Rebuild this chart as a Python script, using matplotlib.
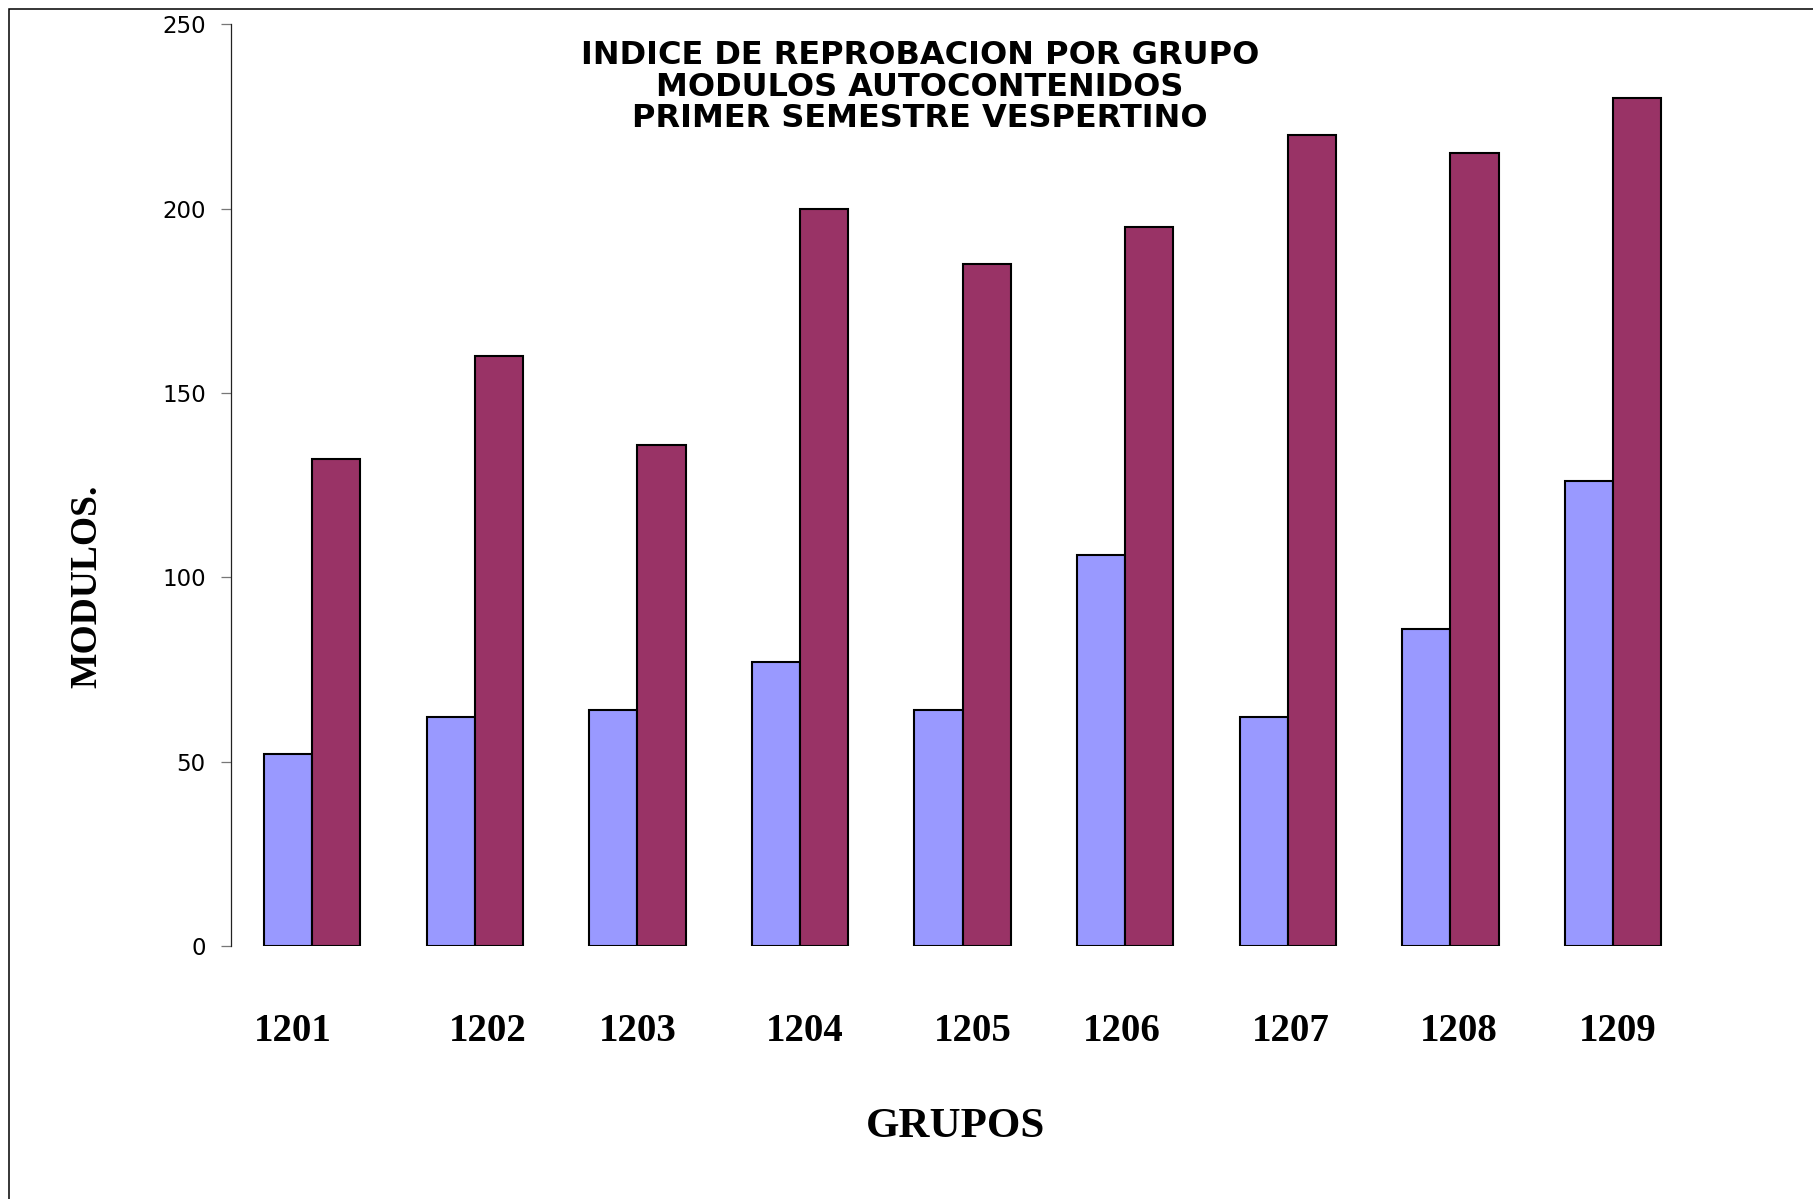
"""Indice de reprobacion por grupo, modulos autocontenidos."""

import matplotlib
matplotlib.use('Agg')
import matplotlib.pyplot as plt
from matplotlib.patches import Rectangle

# data
grupos = ['1201', '1202', '1203', '1204', '1205', '1206', '1207', '1208', '1209']
serie_a = [52, 62, 64, 77, 64, 106, 62, 86, 126]
serie_b = [132, 160, 136, 200, 185, 195, 220, 215, 230]
yticks = [0, 50, 100, 150, 200, 250]
titulo = ('INDICE DE REPROBACION POR GRUPO\n'
          'MODULOS AUTOCONTENIDOS\n'
          'PRIMER SEMESTRE VESPERTINO')

# layout only: small shifts of the hand placed group labels
label_shift = [-0.12, 0.08, 0.0, 0.03, 0.06, -0.02, 0.02, 0.05, 0.03]


def main():
    """Main program called during execution."""

    # initialize figure
    W, H = 1813, 1199
    fig = plt.figure(figsize=(W/100, H/100), dpi=100)
    ax = fig.add_axes([231/W, 1-946/H, (1700-231)/W, (946-24.3)/H])

    # outer frame, only left and top edges fall inside the picture
    fig.patches.append(Rectangle(
        (8.5/W, -0.5), 2.0, 1.5 - 8.5/H, transform=fig.transFigure,
        fill=False, edgecolor='black', linewidth=1.1))

    # grouped bars
    w = 0.297
    x = list(range(len(grupos)))
    ax.bar([i - w/2 for i in x], serie_a, width=w, color='#9999FF',
           edgecolor='black', linewidth=1.5)
    ax.bar([i + w/2 for i in x], serie_b, width=w, color='#993366',
           edgecolor='black', linewidth=1.5)

    # axes limits and spines
    ax.set_xlim(-0.4994, 8.535)
    ax.set_ylim(0, 250)
    for side in ['top', 'right', 'bottom']:
        ax.spines[side].set_visible(False)
    ax.spines['left'].set_color('#222222')
    ax.spines['left'].set_linewidth(0.9)

    # y ticks
    ax.set_yticks(yticks)
    ax.set_yticklabels([str(v) for v in yticks], family='DejaVu Sans',
                       fontsize=16.5)
    ax.tick_params(axis='y', length=7.2, width=0.9, color='#777777',
                   pad=11)

    # x tick labels
    ax.set_xticks([i + s for i, s in zip(x, label_shift)])
    ax.set_xticklabels(grupos, family='Liberation Serif', fontweight='bold',
                       fontsize=28)
    ax.tick_params(axis='x', length=0, pad=48)

    # axis labels
    ax.set_xlabel('GRUPOS', family='Liberation Serif', fontweight='bold',
                  fontsize=31, va='center')
    ax.xaxis.set_label_coords(0.4935, -0.1964)
    ax.set_ylabel('MODULOS.', family='Liberation Serif', fontweight='bold',
                  fontsize=27, va='center')
    ax.yaxis.set_label_coords(-0.098, 0.3906)

    # title inside the plot area
    fig.text(920/W, 1-87/H, titulo, ha='center', va='center',
             family='DejaVu Sans', fontweight='bold', fontsize=23,
             linespacing=1.02)

    # save figure
    fig.savefig('out.png', dpi=100)


if __name__ == '__main__':
    main()
